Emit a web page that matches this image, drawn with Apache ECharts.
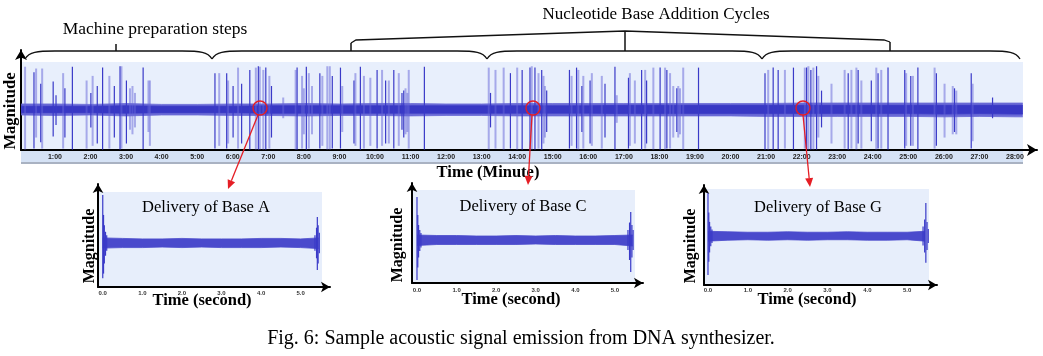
<!DOCTYPE html>
<html><head><meta charset="utf-8">
<script src="https://cdn.jsdelivr.net/npm/echarts@6/dist/echarts.min.js"></script>
<style>html,body{margin:0;padding:0;background:#fff}#c{width:1043px;height:356px}</style>
</head><body><div id="c"></div>
<script>
// ---- main trace: tick labels ----
const tickMinutes = [1,2,3,4,5,6,7,8,9,10,11,12,13,14,15,16,17,18,19,20,21,22,23,24,25,26,27,28];
const tickLabels = ['1:00','2:00','3:00','4:00','5:00','6:00','7:00','8:00','9:00','10:00','11:00','12:00','13:00','14:00','15:00','16:00','17:00','18:00','19:00','20:00','21:00','22:00','23:00','24:00','25:00','26:00','27:00','28:00'];

// ---- main trace: spikes (minute, upper peak, lower peak, shade 0=dark 1=light) ----
const spikeTimes = [0.16,0.41,0.47,0.60,0.64,0.95,1.03,1.23,1.28,1.49,1.89,2.01,2.06,2.19,2.34,2.53,2.67,2.83,2.87,3.01,3.11,3.18,3.25,3.48,3.63,3.67,
 5.50,5.62,5.83,5.87,6.01,6.15,6.25,6.48,6.65,6.72,6.76,6.86,6.93,7.03,7.09,7.42,7.77,7.81,7.95,8.00,8.07,8.14,8.23,8.45,8.52,8.66,8.73,8.80,
 9.03,9.08,9.41,9.45,9.59,9.69,9.87,10.06,10.20,10.30,10.39,10.53,10.67,10.76,10.81,10.86,10.91,10.95,11.39,
 13.20,13.25,13.39,13.62,13.81,14.00,14.14,14.36,14.41,14.50,14.60,14.69,14.74,14.78,14.83,15.47,15.53,15.67,15.72,15.82,15.86,16.05,16.10,
 16.38,16.47,16.75,16.80,17.13,17.17,17.31,17.50,17.60,17.64,17.83,18.02,18.16,18.21,18.30,18.39,18.49,18.53,18.58,18.67,19.10,
 20.97,21.06,21.20,21.34,21.53,21.77,22.09,22.14,22.19,22.26,22.33,22.42,22.47,22.56,22.84,23.21,23.31,23.40,23.54,23.59,23.68,23.96,
 24.10,24.15,24.24,24.43,24.90,24.94,25.07,25.13,25.27,25.74,25.79,26.02,26.25,26.30,26.35,26.77,26.81,27.37];
const spikeUp = [0.92,0.80,0.88,0.55,0.88,0.60,0.30,0.78,0.45,0.92,0.62,0.35,0.72,0.50,0.90,0.72,0.50,0.93,0.93,0.62,0.45,0.50,0.35,0.90,0.62,0.62,
 0.78,0.78,0.78,0.62,0.50,0.90,0.55,0.85,0.90,0.93,0.92,0.85,0.90,0.72,0.50,0.25,0.85,0.90,0.72,0.45,0.92,0.78,0.50,0.78,0.72,0.93,0.93,0.72,
 0.90,0.50,0.62,0.78,0.92,0.72,0.68,0.85,0.85,0.62,0.62,0.85,0.78,0.35,0.40,0.45,0.35,0.85,0.92,
 0.90,0.35,0.85,0.90,0.78,0.90,0.85,0.90,0.93,0.90,0.78,0.85,0.72,0.50,0.40,0.85,0.72,0.90,0.85,0.50,0.72,0.62,0.78,
 0.72,0.55,0.92,0.30,0.68,0.78,0.62,0.85,0.85,0.62,0.90,0.90,0.90,0.85,0.78,0.50,0.45,0.50,0.45,0.90,0.90,
 0.78,0.85,0.90,0.85,0.85,0.90,0.90,0.90,0.93,0.85,0.90,0.93,0.72,0.40,0.55,0.85,0.78,0.85,0.90,0.85,0.62,0.62,
 0.90,0.78,0.85,0.90,0.85,0.78,0.72,0.72,0.90,0.90,0.78,0.55,0.50,0.45,0.40,0.78,0.55,0.25];
const spikeDown = [-0.88,-0.86,-0.62,-0.72,-0.86,-0.60,-0.35,-0.86,-0.62,-0.88,-0.86,-0.40,-0.80,-0.75,-0.88,-0.86,-0.62,-0.88,-0.86,-0.75,-0.45,-0.55,-0.40,-0.87,-0.50,-0.80,
 -0.86,-0.80,-0.86,-0.75,-0.62,-0.86,-0.75,-0.88,-0.88,-0.88,-0.88,-0.88,-0.88,-0.86,-0.62,-0.20,-0.88,-0.88,-0.86,-0.55,-0.88,-0.86,-0.55,-0.86,-0.80,-0.88,-0.88,-0.86,
 -0.86,-0.50,-0.75,-0.80,-0.88,-0.86,-0.80,-0.86,-0.80,-0.75,-0.75,-0.86,-0.80,-0.45,-0.62,-0.55,-0.50,-0.86,-0.88,
 -0.88,-0.40,-0.86,-0.88,-0.86,-0.88,-0.88,-0.88,-0.88,-0.88,-0.86,-0.88,-0.75,-0.62,-0.50,-0.86,-0.80,-0.86,-0.88,-0.50,-0.86,-0.75,-0.80,
 -0.86,-0.62,-0.88,-0.30,-0.86,-0.80,-0.75,-0.88,-0.86,-0.75,-0.88,-0.88,-0.88,-0.86,-0.86,-0.62,-0.50,-0.62,-0.55,-0.88,-0.88,
 -0.88,-0.88,-0.88,-0.88,-0.86,-0.88,-0.86,-0.88,-0.88,-0.88,-0.88,-0.88,-0.62,-0.40,-0.75,-0.86,-0.88,-0.86,-0.88,-0.75,-0.86,-0.70,
 -0.88,-0.86,-0.86,-0.88,-0.86,-0.80,-0.80,-0.80,-0.88,-0.86,-0.80,-0.62,-0.55,-0.50,-0.55,-0.86,-0.70,-0.20];
const spikeShade = [1,0,1,0,1,0,0,1,0,0,1,0,1,0,0,1,0,0,1,0,1,1,1,0,1,1,
 0,1,0,1,0,1,0,0,1,0,1,1,0,1,0,1,1,0,1,1,0,1,1,0,1,1,1,0,
 0,1,0,1,0,1,1,0,1,0,1,0,1,0,0,1,1,1,0,
 1,0,1,1,0,1,0,0,1,0,1,0,1,1,0,0,1,0,1,0,1,0,1,
 1,0,0,1,0,1,1,0,1,0,1,0,1,0,1,1,0,1,1,1,0,
 0,1,0,0,1,0,1,0,1,0,1,0,1,0,1,1,0,1,1,0,1,0,
 1,0,1,0,0,1,0,1,0,1,0,1,1,0,1,0,1,0];

// ---- main trace: noise band envelope (per minute) ----
const envTimes = [0.05,1,2,3,4,5,6,7,8,9,10,11,12,13,14,15,16,17,18,19,20,21,22,23,24,25,26,27,28,28.22];
const envOuterUp   = [0.11,0.11,0.10,0.12,0.10,0.10,0.11,0.11,0.12,0.11,0.12,0.12,0.11,0.11,0.12,0.12,0.12,0.12,0.12,0.12,0.12,0.12,0.13,0.13,0.13,0.13,0.13,0.13,0.13,0.13];
const envOuterDown = [-0.13,-0.14,-0.13,-0.15,-0.13,-0.13,-0.14,-0.14,-0.15,-0.14,-0.14,-0.15,-0.14,-0.14,-0.15,-0.15,-0.15,-0.15,-0.15,-0.15,-0.15,-0.16,-0.16,-0.16,-0.16,-0.16,-0.17,-0.16,-0.17,-0.17];
const envInnerUp   = [0.06,0.06,0.06,0.07,0.06,0.06,0.06,0.07,0.07,0.07,0.07,0.07,0.07,0.07,0.07,0.07,0.07,0.08,0.08,0.08,0.08,0.08,0.08,0.08,0.08,0.08,0.08,0.08,0.08,0.08];
const envInnerDown = [-0.08,-0.08,-0.08,-0.09,-0.08,-0.08,-0.08,-0.09,-0.09,-0.09,-0.09,-0.09,-0.09,-0.09,-0.09,-0.09,-0.09,-0.10,-0.10,-0.10,-0.10,-0.10,-0.10,-0.10,-0.10,-0.10,-0.11,-0.10,-0.11,-0.11];

// ---- zoomed deliveries (seconds) ----
const subTickValues = [0,1,2,3,4,5];
const subTickLabels = ['0.0','1.0','2.0','3.0','4.0','5.0'];
const subEnvTimes = [0.0,0.5,1.0,1.5,2.0,2.5,3.0,3.5,4.0,4.5,5.0,5.45];
const subAUp   = [0.10,0.09,0.08,0.08,0.09,0.08,0.08,0.08,0.09,0.09,0.08,0.10];
const subADown = [-0.10,-0.09,-0.09,-0.08,-0.09,-0.08,-0.09,-0.09,-0.09,-0.08,-0.09,-0.11];
const subCUp   = [0.10,0.09,0.09,0.08,0.08,0.09,0.08,0.09,0.08,0.08,0.09,0.10];
const subCDown = [-0.11,-0.09,-0.09,-0.09,-0.09,-0.09,-0.08,-0.09,-0.09,-0.09,-0.09,-0.12];
const subGUp   = [0.10,0.09,0.08,0.08,0.09,0.08,0.08,0.09,0.08,0.08,0.08,0.10];
const subGDown = [-0.11,-0.09,-0.08,-0.09,-0.08,-0.09,-0.08,-0.08,-0.09,-0.09,-0.08,-0.11];
const burstATimes = [0.00,0.02,0.04,0.07,0.10,5.36,5.40,5.42,5.44,5.47];
const burstAUp    = [0.94,0.55,0.35,0.22,0.15,0.15,0.30,0.51,0.35,0.20];
const burstADown  = [-0.69,-0.60,-0.40,-0.25,-0.15,-0.15,-0.30,-0.53,-0.40,-0.20];
const burstCTimes = [0.00,0.02,0.04,0.07,0.10,5.33,5.37,5.40,5.43,5.46];
const burstCUp    = [0.86,0.50,0.30,0.20,0.14,0.20,0.35,0.56,0.30,0.20];
const burstCDown  = [-0.80,-0.55,-0.35,-0.22,-0.15,-0.20,-0.40,-0.64,-0.35,-0.20];
const burstGTimes = [0.00,0.02,0.04,0.07,0.10,5.40,5.44,5.47,5.50,5.53];
const burstGUp    = [0.91,0.50,0.30,0.20,0.14,0.20,0.35,0.70,0.30,0.15];
const burstGDown  = [-0.83,-0.55,-0.35,-0.22,-0.15,-0.20,-0.35,-0.57,-0.30,-0.15];

// ---------------------------------------------------------------
const SERIF = '"Liberation Serif","DejaVu Serif",serif';
const SANS = '"Liberation Sans","DejaVu Sans",sans-serif';
const DARK = '#3a3ac8', LIGHT = 'rgba(100,100,215,0.5)';

function spikeItem(params, api){
  const p1 = api.coord([api.value(0), api.value(1)]);
  const p2 = api.coord([api.value(0), api.value(2)]);
  const light = api.value(3) === 1;
  return {type:'line', shape:{x1:p1[0],y1:p1[1],x2:p2[0],y2:p2[1]},
    style:{stroke: light ? LIGHT : DARK, lineWidth: light ? 2 : 1.2}};
}
function zip(t, v){ return t.map((x,i)=>[x, v[i]]); }
function bandSeries(idx, t, up, down, color){
  const base = {type:'line', xAxisIndex:idx, yAxisIndex:idx, symbol:'none', silent:true,
    lineStyle:{color:color, width:0.8}, areaStyle:{color:color, opacity:1, origin:0}, z:3};
  return [Object.assign({data:zip(t,up)}, base), Object.assign({data:zip(t,down)}, base)];
}
function subAxes(idx, min, max, ymin, ymax, margin){
  return {
    x:{type:'value', gridIndex:idx, min:min, max:max,
       axisLine:{show:true, onZero:false, lineStyle:{color:'#000', width:2}, symbol:['none','arrow'], symbolSize:[8,9]},
       axisTick:{show:false}, splitLine:{show:false},
       axisLabel:{customValues:subTickValues, formatter:v=>subTickLabels[subTickValues.indexOf(v)], fontSize:6, fontWeight:'bold', color:'#333', margin:margin, fontFamily:SANS}},
    y:{type:'value', gridIndex:idx, min:ymin, max:ymax,
       axisLine:{show:true, onZero:false, lineStyle:{color:'#000', width:2}, symbol:['none','arrow'], symbolSize:[8,9]},
       axisTick:{show:false}, splitLine:{show:false}, axisLabel:{show:false}}
  };
}
const sA = subAxes(1, -0.12, 5.74, -0.863, 1.157, 3);
const sC = subAxes(2, -0.126, 5.71, -0.86, 1.14, 4);
const sG = subAxes(3, -0.10, 5.75, -1.043, 1.085, 2);

function burstSeries(idx, t, up, down){
  return {type:'custom', xAxisIndex:idx, yAxisIndex:idx, renderItem:spikeItem, z:4, silent:true,
    encode:{x:0, y:[1,2]}, data:t.map((x,i)=>[x, up[i], down[i], 0])};
}

const graphics = [];
function rect(x,y,w,h,fill){ graphics.push({type:'rect', shape:{x:x,y:y,width:w,height:h}, style:{fill:fill}, z:-1, silent:true}); }
function text(x,y,s,font,rot){ const el = {type:'text', x:x, y:y, z:100, silent:true,
  style:{text:s, fill:'#000', align:'center', verticalAlign:'middle', font:font}};
  if (rot) el.rotation = rot; graphics.push(el); }
function poly(points, stroke, lw){ graphics.push({type:'polyline', shape:{points:points}, style:{stroke:stroke, lineWidth:lw, fill:null}, z:100, silent:true}); }
function bez(x1,y1,c1x,c1y,c2x,c2y,x2,y2){ graphics.push({type:'bezierCurve', shape:{x1:x1,y1:y1,x2:x2,y2:y2,cpx1:c1x,cpy1:c1y,cpx2:c2x,cpy2:c2y}, style:{stroke:'#111', lineWidth:1.3, fill:null}, z:100, silent:true}); }
function redArrow(x1,y1,x2,y2){
  const a = Math.atan2(y2-y1, x2-x1), L=9, W=4;
  const bx = x2 - L*Math.cos(a), by = y2 - L*Math.sin(a);
  poly([[x1,y1],[bx,by]], '#e51e25', 1.3);
  graphics.push({type:'polygon', shape:{points:[[x2,y2],[bx+W*Math.sin(a),by-W*Math.cos(a)],[bx-W*Math.sin(a),by+W*Math.cos(a)]]}, style:{fill:'#e51e25'}, z:100, silent:true});
}
// backgrounds
rect(21,62,1002,88,'#e8effc');
rect(21,151,1002,11,'#d5e2f5');
rect(21,162,1002,2,'#a9b2c2');
rect(98,192,224,95,'#e7eefb');
rect(412,190,223,93,'#e7eefb');
rect(704,189,225,96,'#e7eefb');

// braces
const BY = 51;
function brace(x0,x1){
  bez(x0,59, x0+4,52, x0+12,BY, x0+30,BY);
  poly([[x0+30,BY],[x1-30,BY]], '#111', 1.3);
  bez(x1-30,BY, x1-12,BY, x1-4,52, x1,59);
}
brace(25,212); brace(212,487); brace(487,762); brace(762,1020);
poly([[116,BY],[116,44]], '#111', 1.5);
poly([[351,BY],[351,43]], '#111', 1.5);
poly([[625,BY],[625,31]], '#111', 1.5);
poly([[890,BY],[890,42]], '#111', 1.5);
poly([[351,43],[356,40],[625,31],[884,40],[890,42]], '#111', 1.3);

// texts
text(155,29,'Machine preparation steps','17.5px '+SERIF);
text(656,15,'Nucleotide Base Addition Cycles','17px '+SERIF);
text(11,111,'Magnitude','bold 16.5px '+SERIF, Math.PI/2);
text(488,173,'Time (Minute)','bold 16.5px '+SERIF);
text(206,208,'Delivery of Base A','16.5px '+SERIF);
text(523,207,'Delivery of Base C','16.5px '+SERIF);
text(818,208,'Delivery of Base G','16.5px '+SERIF);
text(90,246,'Magnitude','bold 16px '+SERIF, Math.PI/2);
text(398,245,'Magnitude','bold 16px '+SERIF, Math.PI/2);
text(691,246,'Magnitude','bold 16px '+SERIF, Math.PI/2);
text(202,301,'Time (second)','bold 16.5px '+SERIF);
text(511,300,'Time (second)','bold 16.5px '+SERIF);
text(807,300,'Time (second)','bold 16.5px '+SERIF);
text(521,339,'Fig. 6: Sample acoustic signal emission from DNA synthesizer.','20px '+SERIF);

// red markers
[[260,108],[533,108],[803,108]].forEach(p=>graphics.push({type:'circle', shape:{cx:p[0],cy:p[1],r:7}, style:{stroke:'#e51e25', lineWidth:1.4, fill:null}, z:100, silent:true}));
redArrow(258,115,228,189);
redArrow(532,115,528,185);
redArrow(803,115,810,187);

const chart = echarts.init(document.getElementById('c'), null, {renderer:'canvas'});
chart.setOption({
  animation:false,
  backgroundColor:'#fff',
  grid:[
    {left:21, top:50, width:1016, height:100, outerBoundsMode:'none'},
    {left:98, top:184, width:232, height:103, outerBoundsMode:'none'},
    {left:412, top:183, width:231, height:100, outerBoundsMode:'none'},
    {left:704, top:185, width:233, height:100, outerBoundsMode:'none'}
  ],
  xAxis:[
    {type:'value', gridIndex:0, min:0.045, max:28.62,
     axisLine:{show:true, onZero:false, lineStyle:{color:'#000', width:2}, symbol:['none','arrow'], symbolSize:[9,10]},
     axisTick:{show:false}, splitLine:{show:false},
     axisLabel:{customValues:tickMinutes, formatter:v=>tickLabels[tickMinutes.indexOf(v)], fontSize:7, fontWeight:'bold', color:'#222', margin:4, fontFamily:SANS}},
    sA.x, sC.x, sG.x
  ],
  yAxis:[
    {type:'value', gridIndex:0, min:-0.891, max:1.283,
     axisLine:{show:true, onZero:false, lineStyle:{color:'#000', width:2}, symbol:['none','arrow'], symbolSize:[9,10]},
     axisTick:{show:false}, splitLine:{show:false}, axisLabel:{show:false}},
    sA.y, sC.y, sG.y
  ],
  series:[
    ...bandSeries(0, envTimes, envOuterUp, envOuterDown, '#6a6ad6'),
    ...bandSeries(0, envTimes, envInnerUp, envInnerDown, '#3838c4'),
    {type:'custom', xAxisIndex:0, yAxisIndex:0, renderItem:spikeItem, z:4, silent:true, encode:{x:0, y:[1,2]},
     data:spikeTimes.map((t,i)=>[t, spikeUp[i], spikeDown[i], spikeShade[i]])},
    ...bandSeries(1, subEnvTimes, subAUp, subADown, '#4a4acc'),
    ...bandSeries(2, subEnvTimes, subCUp, subCDown, '#4a4acc'),
    ...bandSeries(3, subEnvTimes, subGUp, subGDown, '#4a4acc'),
    burstSeries(1, burstATimes, burstAUp, burstADown),
    burstSeries(2, burstCTimes, burstCUp, burstCDown),
    burstSeries(3, burstGTimes, burstGUp, burstGDown)
  ],
  graphic:{elements:graphics}
});
</script></body></html>
